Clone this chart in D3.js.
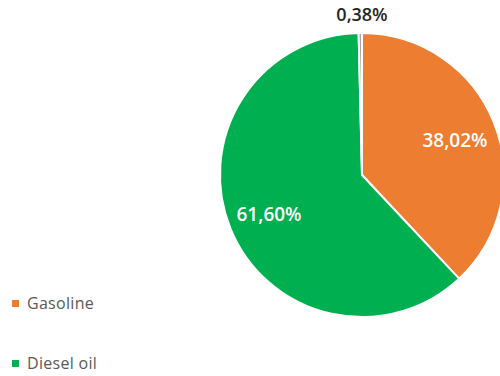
<!DOCTYPE html>
<html><head><meta charset="utf-8">
<script src="https://cdn.jsdelivr.net/npm/d3@7"></script>
<style>body{margin:0;background:#fff}svg{display:block}</style>
</head><body>
<script>
const categories = ["Gasoline", "Diesel oil", "Other"];
const values = [38.02, 61.60, 0.38];
const labels = ["38,02%", "61,60%", "0,38%"];
const legendItems = ["Gasoline", "Diesel oil"];
const colors = ["#ED7D31", "#00B050", "#A5A5A5"];

const W = 500, H = 376;
const svg = d3.select("body").append("svg").attr("width", W).attr("height", H);
const cx = 362, cy = 175, r = 142;
const pie = d3.pie().sort(null).value(d => d)(values);
const arc = d3.arc().innerRadius(0).outerRadius(r);
const g = svg.append("g").attr("transform", `translate(${cx},${cy})`);
g.selectAll("path").data(pie).join("path")
  .attr("d", arc).attr("fill", (d, i) => colors[i])
  .attr("stroke", "#fff").attr("stroke-width", 2);

const font = "'Open Sans', 'Noto Sans', sans-serif";
pie.forEach((d, i) => {
  let x, y, fill = "#fff", size = 19;
  if (i === 2) { x = 0; y = -cy + 21; fill = "#262626"; size = 18; }
  else if (i === 0) { x = 455 - cx; y = 147 - cy; }
  else { x = 269 - cx; y = 221 - cy; }
  g.append("text").attr("x", x).attr("y", y).attr("text-anchor", "middle")
    .attr("font-family", font).attr("font-weight", 600).attr("font-size", size)
    .attr("fill", fill).text(labels[i]);
});

const leg = svg.append("g");
legendItems.forEach((name, i) => {
  const y = 300 + i * 60;
  leg.append("rect").attr("x", 12).attr("y", y).attr("width", 7).attr("height", 7).attr("fill", colors[i]);
  leg.append("text").attr("x", 27).attr("y", y + 9).attr("font-family", font)
    .attr("font-size", 16).attr("letter-spacing", 0.3).attr("fill", "#595959").text(name);
});
</script>
</body></html>
